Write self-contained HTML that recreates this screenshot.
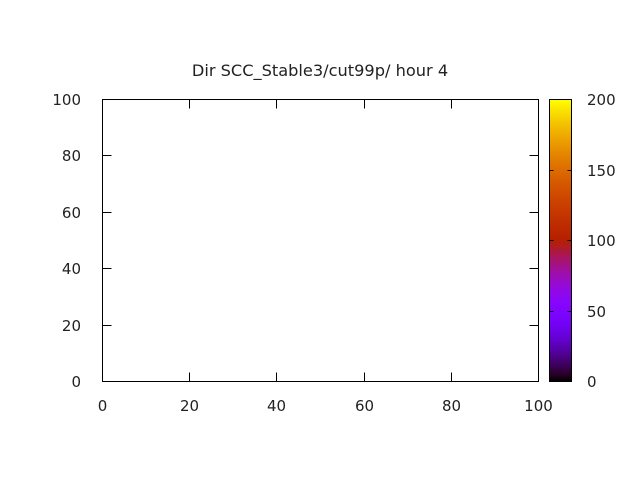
<!DOCTYPE html>
<html><head><meta charset="utf-8"><style>
html,body{margin:0;padding:0;background:#fff;}
svg{display:block;font-family:"DejaVu Sans","Liberation Sans",sans-serif;font-size:15px;fill:#222;}
</style></head><body>
<svg id="c" width="640" height="480" xmlns="http://www.w3.org/2000/svg">
<defs><linearGradient id="pal" x1="0" y1="1" x2="0" y2="0"></linearGradient></defs>
<rect width="640" height="480" fill="#fff"/>
<text x="320" y="76" text-anchor="middle" style="font-size:16.2px">Dir SCC_Stable3/cut99p/ hour 4</text>
<g id="axes"></g>
</svg>
<script>
const xTicks=[0,20,40,60,80,100];
const yTicks=[0,20,40,60,80,100];
const cbTicks=[0,50,100,150,200];
const xDomain=[0,100], yDomain=[0,100], cbDomain=[0,200];
const L=102,R=538,T=99,B=381, CL=549,CR=571;
const NS="http://www.w3.org/2000/svg";
const svg=document.getElementById('c'), g=document.getElementById('axes');
const sx=v=>L+(v-xDomain[0])/(xDomain[1]-xDomain[0])*(R-L);
const sy=v=>B-(v-yDomain[0])/(yDomain[1]-yDomain[0])*(B-T);
const sc=v=>B-(v-cbDomain[0])/(cbDomain[1]-cbDomain[0])*(B-T);
function el(t,a){const e=document.createElementNS(NS,t);for(const k in a)e.setAttribute(k,a[k]);g.appendChild(e);return e;}
const grad=document.getElementById('pal');
for(let i=0;i<=40;i++){const x=i/40;
 const r=Math.sqrt(x),gg=x*x*x,b=Math.max(0,Math.sin(2*Math.PI*x));
 const s=document.createElementNS(NS,'stop');s.setAttribute('offset',x);
 s.setAttribute('stop-color',`rgb(${Math.round(r*255)},${Math.round(gg*255)},${Math.round(b*255)})`);grad.appendChild(s);}
let e=el('rect',{x:L+0.5,y:T+0.5,width:R-L,height:B-T,fill:'none',stroke:'#000','stroke-width':1});


xTicks.forEach(v=>{const x=Math.round(sx(v))+0.5;
 let t=el('line',{x1:x,x2:x,y1:B+0.5,y2:B-8.5,stroke:'#000'});
 
 
 t=el('line',{x1:x,x2:x,y1:T+0.5,y2:T+9.5,stroke:'#000'});
 
 
 const l=el('text',{x:x,y:B+30,'text-anchor':'middle'});l.textContent=v;
 
 });
yTicks.forEach(v=>{const y=Math.round(sy(v))+0.5;
 let t=el('line',{x1:L+0.5,x2:L+9.5,y1:y,y2:y,stroke:'#000'});
 
 
 t=el('line',{x1:R+0.5,x2:R-8.5,y1:y,y2:y,stroke:'#000'});
 
 
 const l=el('text',{x:L-21,y:y+5.5,'text-anchor':'end'});l.textContent=v;
 
 });
e=el('rect',{x:CL+0.5,y:T+0.5,width:CR-CL,height:B-T,fill:'url(#pal)',stroke:'#000'});


cbTicks.forEach(v=>{const y=Math.round(sc(v))+0.5;
 let t=el('line',{x1:CL+0.5,x2:CL+4.5,y1:y,y2:y,stroke:'#000'});
 
 
 t=el('line',{x1:CR+0.5,x2:CR-3.5,y1:y,y2:y,stroke:'#000'});
 
 
 const l=el('text',{x:587,y:y+5.5,'text-anchor':'start'});l.textContent=v;
 
 });
</script>
</body></html>
